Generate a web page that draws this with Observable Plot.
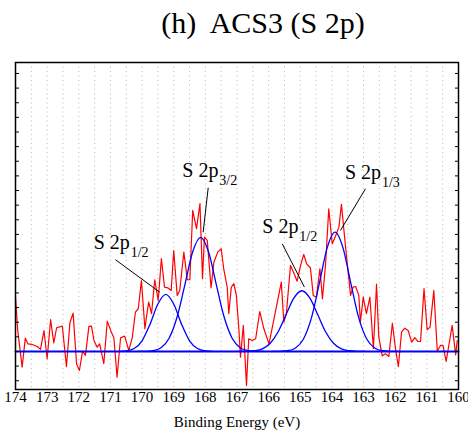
<!DOCTYPE html>
<html>
<head>
<meta charset="utf-8">
<script src="https://cdn.jsdelivr.net/npm/d3@7"></script>
<script src="https://cdn.jsdelivr.net/npm/@observablehq/plot@0.6"></script>
<style>
  body { margin: 0; background: #fff; }
  #wrap { position: relative; width: 468px; height: 433px; overflow: hidden; background: #fff; }
  #title { position: absolute; top: 8px; left: 29px; width: 468px; text-align: center;
           font-family: "Liberation Serif", "Times New Roman", serif; font-size: 30px; line-height: 30px;
           white-space: pre; color: #000; }
  #chart { position: absolute; top: 50px; left: 0; }
</style>
</head>
<body>
<div id="wrap">
  <div id="title">(h)  ACS3 (S 2p)</div>
  <div id="chart"></div>
</div>
<script>
// ---- data ----
const energy = [174.0,173.93,173.79,173.69,173.61,173.47,173.31,173.21,173.1,173.0,172.89,172.79,172.70,172.52,172.39,172.28,172.18,172.07,171.98,171.88,171.79,171.68,171.6,171.52,171.42,171.34,171.21,171.1,170.97,170.89,170.79,170.68,170.55,170.42,170.31,170.21,170.12,170.02,169.91,169.84,169.79,169.70,169.60,169.49,169.39,169.29,169.19,169.08,169.0,168.89,168.81,168.68,168.57,168.49,168.40,168.28,168.17,168.09,168.03,167.94,167.82,167.73,167.61,167.50,167.42,167.31,167.26,167.18,167.10,167.02,166.94,166.89,166.80,166.70,166.63,166.52,166.41,166.28,166.15,165.99,165.84,165.60,165.52,165.44,165.31,165.20,165.10,164.99,164.89,164.80,164.68,164.59,164.49,164.38,164.30,164.20,164.10,163.99,163.88,163.78,163.70,163.62,163.52,163.41,163.33,163.25,163.15,163.10,163.01,162.91,162.80,162.69,162.59,162.52,162.41,162.31,162.20,162.09,161.99,161.90,161.80,161.70,161.59,161.48,161.38,161.28,161.20,161.09,160.99,160.90,160.78,160.67,160.57,160.49,160.39,160.28,160.20,160.09,160.04];
const intensity = [3.71,1.43,-1.07,0.91,0.52,0.48,0.34,0.14,1.43,-0.5,2.17,0.59,1.62,1.73,-1.03,1.96,2.62,-0.84,-1.3,0.02,-0.27,1.71,1.73,0.75,0.29,0.52,-0.84,2.07,1.32,0.94,-1.76,0.94,1.05,0.07,0.94,2.69,2.92,4.85,1.55,2.69,3.37,2.58,4.9,3.49,6.34,4.4,4.35,4.17,6.9,3.83,4.17,6.79,4.9,4.9,9.64,8.39,10.1,4.97,7.81,7.59,4.35,6.1,6.79,7.02,5.65,4.4,2.58,4.4,4.63,3.83,1.5,-0.39,1.78,-2.32,0.87,0.75,0.87,2.73,1.55,0.52,2.12,4.74,2.0,2.58,5.88,5.35,4.8,5.88,6.63,5.99,5.72,3.83,3.71,5.65,3.6,5.99,9.75,7.36,7.93,8.5,10.05,8.27,6.1,3.83,4.4,4.44,3.83,2.0,3.71,2.58,3.71,0.2,4.6,1.0,-0.3,-0.16,-0.34,1.93,0.18,-1.03,1.32,1.59,1.43,0.64,0.94,0.68,0.68,4.29,1.48,1.66,4.17,0.02,0.41,0.41,-0.68,0.75,1.78,-0.23,0.75];

// fitted components
const peak1E = [170.75,170.5,170.25,170.0,169.75,169.5,169.25,169.0,168.75,168.5,168.25,168.0,167.75];
const peak1V = [0,0.04,0.2,0.73,1.85,3.24,3.9,3.24,1.85,0.73,0.2,0.04,0];
const peak2E = [170.15,169.9,169.65,169.4,169.15,168.9,168.65,168.4,168.15,167.9,167.65,167.4,167.15,166.9,166.65,166.4,166.15];
const peak2V = [0,0.01,0.06,0.26,0.89,2.30,4.53,6.81,7.8,6.81,4.53,2.30,0.89,0.26,0.06,0.01,0];
const peak3E = [166.95,166.7,166.45,166.2,165.95,165.7,165.45,165.2,164.95,164.7,164.45,164.2,163.95,163.7,163.45,163.2,162.95];
const peak3V = [0,0.01,0.05,0.18,0.56,1.35,2.52,3.66,4.15,3.66,2.52,1.35,0.56,0.18,0.05,0.01,0];
const peak4E = [165.9,165.65,165.4,165.15,164.9,164.65,164.4,164.15,163.9,163.65,163.4,163.15,162.9,162.65,162.4,162.15,161.9];
const peak4V = [0,0.01,0.05,0.24,0.85,2.28,4.63,7.08,8.15,7.08,4.63,2.28,0.85,0.24,0.05,0.01,0];
const baseE = [174, 160];
const baseV = [0, 0];

// annotations
const annMain = ["S 2p", "S 2p", "S 2p", "S 2p"];
const annSub = ["1/2", "3/2", "1/2", "1/3"];
const annE = [171.53, 168.73, 166.2, 163.59];
const annV = [7.02, 11.91, 8.09, 11.8];
const leadE1 = [170.84, 167.91, 165.57, 162.94];
const leadV1 = [6.27, 11.19, 7.36, 11.12];
const leadE2 = [169.44, 168.07, 164.87, 163.73];
const leadV2 = [4.05, 8.15, 4.4, 8.27];

// axis ticks
const xTicks = [174,173,172,171,170,169,168,167,166,165,164,163,162,161,160];
const xGrid = [174,173.5,173,172.5,172,171.5,171,170.5,170,169.5,169,168.5,168,167.5,167,166.5,166,165.5,165,164.5,164,163.5,163,162.5,162,161.5,161,160.5,160];
const yTicks = [-2,-1,0,1,2,3,4,5,6,7,8,9,10,11,12,13,14,15,16,17,18,19];

// ---- tables ----
const spectrum = energy.map((e, i) => ({e, v: intensity[i]}));
const peaks = [];
[[peak1E, peak1V], [peak2E, peak2V], [peak3E, peak3V], [peak4E, peak4V]].forEach(([E, V], k) => {
  E.forEach((e, i) => peaks.push({e, v: V[i], peak: k}));
});
const baseline = baseE.map((e, i) => ({e, v: baseV[i]}));
const ann = annE.map((e, i) => ({e, v: annV[i], main: annMain[i], sub: annSub[i],
  e1: leadE1[i], v1: leadV1[i], e2: leadE2[i], v2: leadV2[i]}));

const serif = "Liberation Serif, Times New Roman, serif";

const chart = Plot.plot({
  width: 468,
  height: 383,
  marginTop: 12,
  marginBottom: 44,
  marginLeft: 15,
  marginRight: 10,
  style: {fontFamily: serif, background: "#fff", color: "#000"},
  x: {domain: [174, 160]},
  y: {domain: [-2.6, 19.75]},
  marks: [
    Plot.ruleX(xGrid, {stroke: "#b4b4b4", strokeWidth: 1, strokeDasharray: "1,3.5"}),
    Plot.line(spectrum, {x: "e", y: "v", stroke: "#ff0000", strokeWidth: 1.2}),
    Plot.line(baseline, {x: "e", y: "v", stroke: "#0000ff", strokeWidth: 2}),
    Plot.line(peaks, {x: "e", y: "v", z: "peak", stroke: "#0000ff", strokeWidth: 1.3, curve: "monotone-x"}),
    Plot.link(ann, {x1: "e1", y1: "v1", x2: "e2", y2: "v2", stroke: "#000", strokeWidth: 1}),
    Plot.text(ann, {x: "e", y: "v", text: "main", textAnchor: "start", lineAnchor: "bottom", fontSize: 20, fill: "#000", fontFamily: serif}),
    Plot.text(ann, {x: "e", y: "v", text: "sub", textAnchor: "start", lineAnchor: "bottom", fontSize: 14, dx: 37, dy: 8, fill: "#000", fontFamily: serif}),
    Plot.axisX(xTicks, {anchor: "bottom", tickSize: 0, tickPadding: 2, fontSize: 15, fill: "#000",
      label: "Binding Energy (eV)", labelAnchor: "center", labelOffset: 37, labelArrow: "none"}),
    Plot.axisY(yTicks, {anchor: "left", tickSize: 4, dx: 4, tickFormat: () => "", label: null}),
    Plot.axisY(yTicks, {anchor: "right", tickSize: 4, dx: -4, tickFormat: () => "", label: null}),
    Plot.frame({stroke: "#000", strokeWidth: 1.5})
  ]
});
document.getElementById("chart").appendChild(chart);
</script>
</body>
</html>
